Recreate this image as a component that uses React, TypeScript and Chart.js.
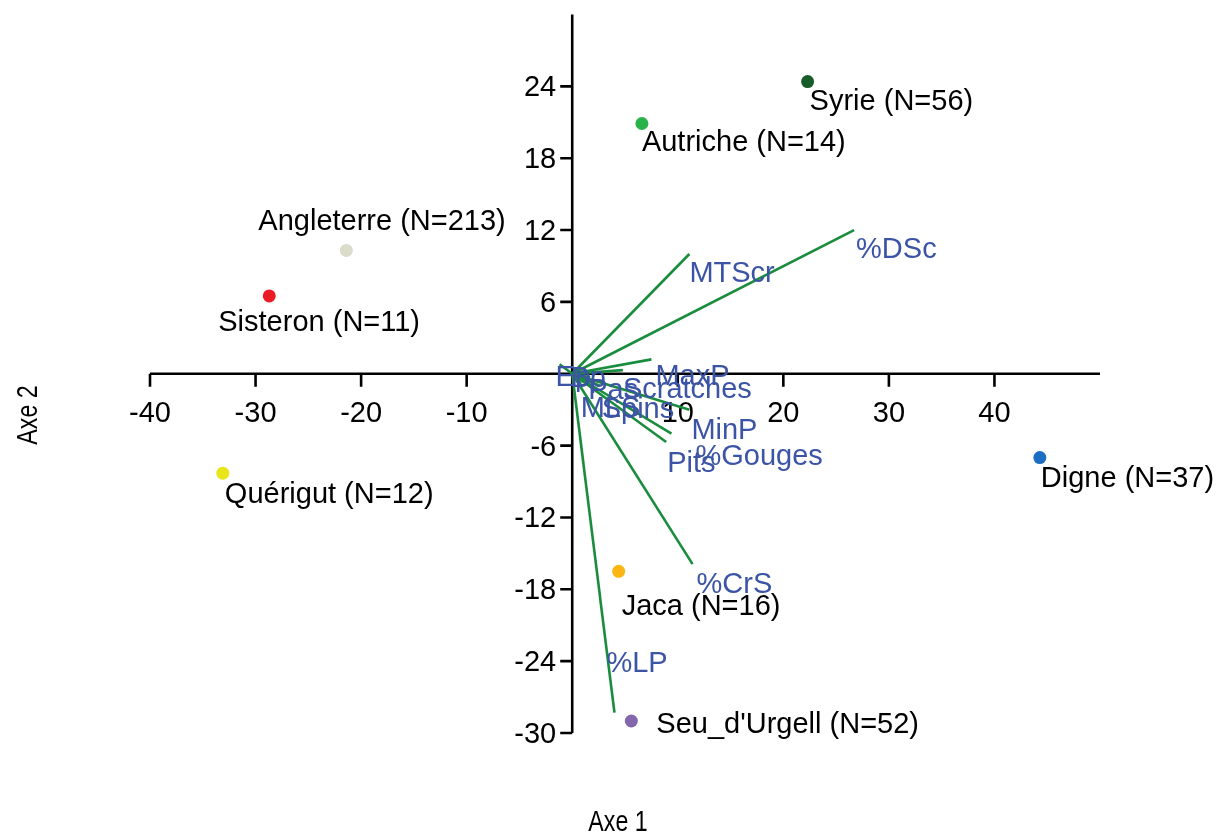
import React, { useEffect, useRef } from "react";
import { Chart, registerables } from "chart.js";

Chart.register(...registerables);

// ---- data ----
const siteNames = [
  "Syrie (N=56)",
  "Autriche (N=14)",
  "Angleterre (N=213)",
  "Sisteron (N=11)",
  "Quérigut (N=12)",
  "Digne (N=37)",
  "Jaca (N=16)",
  "Seu_d'Urgell (N=52)",
];
const siteX = [22.3, 6.6, -21.4, -28.7, -33.1, 44.3, 4.4, 5.6];
const siteY = [24.4, 20.9, 10.3, 6.5, -8.3, -7.0, -16.5, -29.0];

const varNames = [
  "%DSc",
  "MTScr",
  "MaxP",
  "MinP",
  "%Gouges",
  "Pits",
  "%CrS",
  "%LP",
  "Ep",
  "Bp",
  "MLS",
  "Spins",
  "Pas",
  "Scratches",
];
const varX = [26.7, 11.1, 7.5, 11.1, 9.4, 8.9, 11.4, 4.0, -1.2, 0.4, 0.8, 2.6, 1.7, 4.8];
const varY = [12.0, 10.0, 1.2, -3.0, -5.0, -5.7, -15.9, -28.3, 0.8, 0.4, -0.8, -1.0, -0.3, 0.3];

const xTicks = [-40, -30, -20, -10, 10, 20, 30, 40];
const yTicks = [-30, -24, -18, -12, -6, 6, 12, 18, 24];
const xTitle = "Axe 1";
const yTitle = "Axe 2";

// ---- styles ----
const siteColors = ["#185c2c", "#2ab24b", "#dcdccb", "#ec1c24", "#e8e51a", "#1b6ec2", "#fbb614", "#8466ad"];
// label offsets in pixels (dx, dy to baseline-left)
const siteLabelOffsets: [number, number][] = [
  [2, 28],
  [0, 28],
  [-88, -20],
  [-51, 35],
  [2, 30],
  [1, 29],
  [3, 44],
  [25, 12],
];
const varLabelOffsets: [number, number][] = [
  [2, 28],
  [0, 28],
  [4, 26],
  [2, 29],
  [24, 31],
  [1, 30],
  [4, 29],
  [-8, -41],
  [-4, 22],
  [-6, 18],
  [0, 34],
  [2, 32],
  [-2, 22],
  [0, 28],
];
const FONT = "29px 'Liberation Sans', Arial, sans-serif";
const GREEN = "#1a8c3e";
const BLUE = "#3c54a5";

const overlay = {
  id: "biplotOverlay",
  beforeDatasetsDraw(chart: any) {
    const ctx = chart.ctx;
    const xs = chart.scales.x;
    const ys = chart.scales.y;
    const x0 = xs.getPixelForValue(0);
    const y0 = ys.getPixelForValue(0);
    const area = chart.chartArea;
    ctx.save();
    ctx.strokeStyle = "#000";
    ctx.lineWidth = 2.6;
    ctx.beginPath();
    ctx.moveTo(area.left, y0);
    ctx.lineTo(area.right, y0);
    ctx.moveTo(x0, area.top);
    ctx.lineTo(x0, area.bottom);
    xTicks.forEach((v) => {
      const px = xs.getPixelForValue(v);
      ctx.moveTo(px, y0);
      ctx.lineTo(px, y0 + 13);
    });
    yTicks.forEach((v) => {
      const py = ys.getPixelForValue(v);
      ctx.moveTo(x0 - 12, py);
      ctx.lineTo(x0, py);
    });
    ctx.stroke();
    ctx.fillStyle = "#000";
    ctx.font = FONT;
    ctx.textBaseline = "alphabetic";
    ctx.textAlign = "center";
    xTicks.forEach((v) => {
      ctx.fillText(String(v), xs.getPixelForValue(v), y0 + 48);
    });
    ctx.textAlign = "right";
    yTicks.forEach((v) => {
      ctx.fillText(String(v), x0 - 16, ys.getPixelForValue(v) + 10);
    });
    // axis titles (narrow)
    ctx.font = "29px 'Liberation Sans', Arial, sans-serif";
    ctx.textAlign = "center";
    ctx.save();
    ctx.translate(610, 823);
    ctx.scale(0.8, 1);
    ctx.fillText(xTitle, 0, 0);
    ctx.restore();
    ctx.save();
    ctx.translate(29, 407);
    ctx.rotate(-Math.PI / 2);
    ctx.scale(0.8, 1);
    ctx.fillText(yTitle, 0, 0);
    ctx.restore();
    ctx.restore();
  },
  afterDatasetsDraw(chart: any) {
    const ctx = chart.ctx;
    const xs = chart.scales.x;
    const ys = chart.scales.y;
    ctx.save();
    ctx.font = FONT;
    ctx.textAlign = "left";
    ctx.textBaseline = "alphabetic";
    ctx.fillStyle = BLUE;
    varNames.forEach((n, i) => {
      const px = xs.getPixelForValue(varX[i]);
      const py = ys.getPixelForValue(varY[i]);
      ctx.fillText(n, px + varLabelOffsets[i][0], py + varLabelOffsets[i][1]);
    });
    ctx.fillStyle = "#000";
    siteNames.forEach((n, i) => {
      const px = xs.getPixelForValue(siteX[i]);
      const py = ys.getPixelForValue(siteY[i]);
      ctx.fillText(n, px + siteLabelOffsets[i][0], py + siteLabelOffsets[i][1]);
    });
    ctx.restore();
  },
};

export default function App() {
  const ref = useRef<HTMLCanvasElement | null>(null);
  useEffect(() => {
    if (!ref.current) return;
    const vectorSets = varNames.map((n, i) => ({
      type: "line" as const,
      label: n,
      data: [
        { x: 0, y: 0 },
        { x: varX[i], y: varY[i] },
      ],
      borderColor: GREEN,
      borderWidth: 2.6,
      pointRadius: 0,
      fill: false,
      clip: false as any,
      order: 2,
    }));
    const chart = new Chart(ref.current, {
      type: "scatter",
      data: {
        datasets: [
          ...vectorSets,
          {
            type: "scatter" as const,
            label: "sites",
            data: siteNames.map((_, i) => ({ x: siteX[i], y: siteY[i] })),
            backgroundColor: siteColors,
            borderColor: siteColors,
            pointRadius: 6.5,
            pointBorderWidth: 0,
            clip: false as any,
            order: 1,
          },
        ] as any,
      },
      options: {
        animation: false,
        responsive: true,
        maintainAspectRatio: false,
        layout: { padding: { left: 142, right: 115, top: 2, bottom: 103 } },
        plugins: { legend: { display: false }, tooltip: { enabled: false } },
        scales: {
          x: { type: "linear", min: -40, max: 50, display: false },
          y: { type: "linear", min: -30, max: 30, display: false },
        },
      },
      plugins: [overlay],
    });
    return () => chart.destroy();
  }, []);
  return (
    <div style={{ width: 1207, height: 828, position: "relative" }}>
      <canvas ref={ref} />
    </div>
  );
}
